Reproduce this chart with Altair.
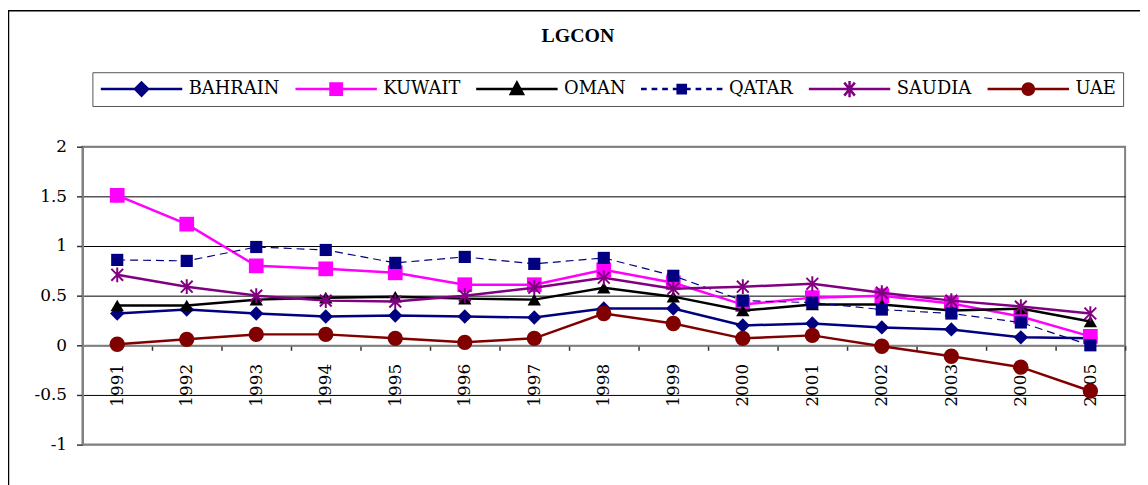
import altair as alt
import pandas as pd

years = [str(y) for y in range(1991, 2006)]
series_names = ["BAHRAIN", "KUWAIT", "OMAN", "QATAR", "SAUDIA", "UAE"]

bahrain = [0.32, 0.36, 0.32, 0.29, 0.30, 0.29, 0.28, 0.37, 0.37, 0.20, 0.22, 0.18, 0.16, 0.08, 0.07]
kuwait = [1.51, 1.22, 0.80, 0.77, 0.73, 0.61, 0.61, 0.76, 0.63, 0.41, 0.48, 0.50, 0.42, 0.29, 0.09]
oman = [0.40, 0.40, 0.46, 0.48, 0.49, 0.47, 0.46, 0.58, 0.49, 0.35, 0.41, 0.41, 0.35, 0.37, 0.24]
qatar = [0.86, 0.85, 0.99, 0.96, 0.83, 0.89, 0.82, 0.88, 0.70, 0.45, 0.43, 0.36, 0.32, 0.23, 0.00]
saudia = [0.71, 0.59, 0.50, 0.45, 0.44, 0.50, 0.58, 0.68, 0.57, 0.59, 0.62, 0.53, 0.45, 0.39, 0.32]
uae = [0.01, 0.06, 0.11, 0.11, 0.07, 0.03, 0.07, 0.32, 0.22, 0.07, 0.10, -0.01, -0.11, -0.22, -0.46]

y_ticks = [-1, -0.5, 0, 0.5, 1, 1.5, 2]

values_by_series = [bahrain, kuwait, oman, qatar, saudia, uae]
rows = []
for name, vals in zip(series_names, values_by_series):
    for yr, v in zip(years, vals):
        rows.append({"year": yr, "series": name, "value": v})
df = pd.DataFrame(rows)

# styles
colors = ["#000080", "#FF00FF", "#000000", "#000080", "#800080", "#800000"]
line_widths = [2.5, 2.5, 2.5, 1.2, 2.5, 2.5]
dashes = [None, None, None, [8, 5], None, None]
asterisk = "M-0.8,-0.8L0.8,0.8M-0.8,0.8L0.8,-0.8M0,-1L0,1"
shapes = ["diamond", "square", "triangle-up", "square", asterisk, "circle"]
sizes = [210, 220, 180, 150, 220, 240]
filled = [True, True, True, True, False, True]

legend_paths = [
    "M-1,0H1M0,-0.16L0.16,0L0,0.16L-0.16,0Z",
    "M-1,0H1M-0.14,-0.14H0.14V0.14H-0.14Z",
    "M-1,0H1M0,-0.16L0.15,0.12L-0.15,0.12Z",
    "M-1,0H-0.86M-0.74,0H-0.6M-0.48,0H-0.34M-0.22,0H-0.12M0.12,0H0.22M0.34,0H0.48M0.6,0H0.74M0.86,0H1M-0.1,-0.1H0.1V0.1H-0.1Z",
    "M-1,0H1M-0.13,-0.16L0.13,0.16M-0.13,0.16L0.13,-0.16M0,-0.2V0.2",
    "M-1,0H1M-0.14,0A0.14,0.14,0,1,1,0.14,0A0.14,0.14,0,1,1,-0.14,0Z",
]

W, H = 1050, 300
FONT = "DejaVu Serif"
TITLE_FONT = "serif"
ymin, ymax = -1, 2

x_enc = alt.X(
    "year:N",
    scale=alt.Scale(type="band", domain=years, paddingInner=0, paddingOuter=0),
    axis=alt.Axis(
        title=None,
        orient="bottom",
        offset=-(0 - ymin) / (ymax - ymin) * H,
        domainColor="#808080",
        domainWidth=2,
        tickColor="#333333",
        tickSize=5,
        tickWidth=1.5,
        tickBand="extent",
        labelAngle=270,
        labelFont=FONT,
        labelFontSize=17,
        labelColor="#000000",
        labelPadding=13,
        grid=False,
    ),
)
y_enc = alt.Y(
    "value:Q",
    scale=alt.Scale(domain=[ymin, ymax], nice=False, zero=False),
    axis=alt.Axis(
        title=None,
        values=y_ticks,
        domainColor="#808080",
        domainWidth=2,
        tickColor="#333333",
        tickSize=6,
        tickWidth=1.5,
        labelFont=FONT,
        labelFontSize=17,
        labelColor="#000000",
        labelPadding=10,
        labelExpr="replace(format(datum.value, ''), '\u2212', '-')",
        grid=True,
        gridColor=alt.condition(
            "datum.value == 2 || datum.value == -1",
            alt.value("#808080"),
            alt.value("#000000"),
        ),
        gridWidth=1,
    ),
)

base = alt.Chart(df)
layers = []
for i, name in enumerate(series_names):
    sub = base.transform_filter(alt.datum.series == name)
    line_kwargs = dict(color=colors[i], strokeWidth=line_widths[i])
    if dashes[i]:
        line_kwargs["strokeDash"] = dashes[i]
    layers.append(sub.mark_line(**line_kwargs).encode(x=x_enc, y=y_enc))
    layers.append(
        sub.mark_point(
            shape=shapes[i],
            size=sizes[i],
            filled=filled[i],
            color=colors[i],
            opacity=1,
            strokeWidth=2,
        ).encode(x=x_enc, y=y_enc)
    )

leg = alt.Legend(
    title=None,
    orient="none",
    legendX=10,
    legendY=-75,
    direction="horizontal",
    strokeColor="#555555",
    padding=7,
    symbolSize=6724,
    clipHeight=20,
    labelFont=FONT,
    labelFontSize=18,
    labelColor="#000000",
    labelOffset=5,
    columnPadding=14,
    symbolStrokeWidth=2.5,
    symbolOpacity=1,
)
legend_layer = (
    base.transform_filter("false")
    .mark_point(filled=True, opacity=1, strokeWidth=2.5)
    .encode(
        shape=alt.Shape("series:N", scale=alt.Scale(domain=series_names, range=legend_paths), legend=leg),
        fill=alt.Fill("series:N", scale=alt.Scale(domain=series_names, range=colors), legend=leg),
        stroke=alt.Stroke("series:N", scale=alt.Scale(domain=series_names, range=colors), legend=leg),
    )
)

frame = alt.Chart(alt.Data(values=[{}])).mark_rect(
    fill=None, stroke="#000000", strokeWidth=1.5
).encode(
    x=alt.value(-74.5), x2=alt.value(1070), y=alt.value(-137), y2=alt.value(345)
)

chart = (
    alt.layer(frame, *layers, legend_layer)
    .properties(
        width=W,
        height=H,
        title=alt.Title(
            "LGCON",
            font=TITLE_FONT,
            fontSize=20,
            fontWeight="bold",
            color="#000000",
            anchor="middle",
            baseline="bottom",
            dx=-26,
            dy=56,
            offset=0,
        ),
        autosize=alt.AutoSizeParams(type="none"),
        padding={"left": 75, "top": 138, "right": 15, "bottom": 39},
    )
    .configure_view(stroke="#808080", strokeWidth=2)
)

chart.save("out.html", embed_options={"renderer": "svg", "actions": False})
